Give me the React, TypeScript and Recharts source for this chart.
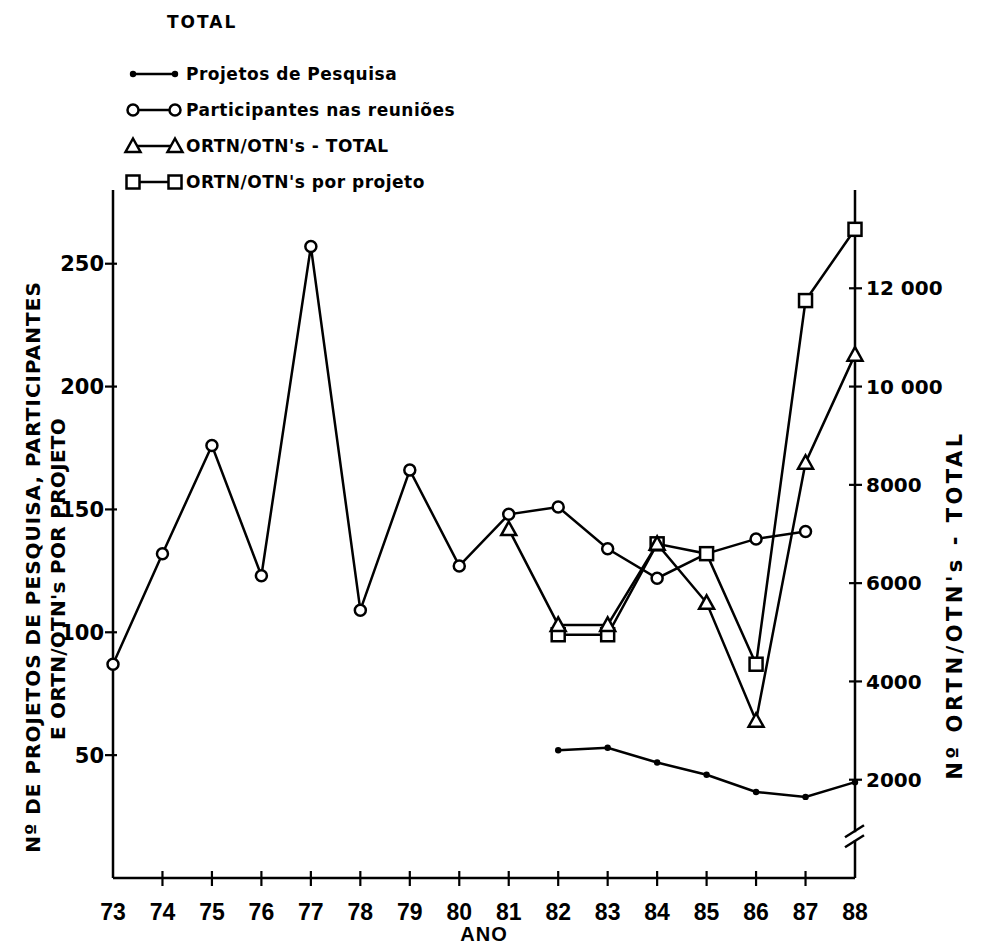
import React from "react";
import { LineChart, Line, XAxis, YAxis, Legend, ReferenceDot } from "recharts";

document.body.style.margin = "0";

// valores (anos 1973-1988)
const years = [73, 74, 75, 76, 77, 78, 79, 80, 81, 82, 83, 84, 85, 86, 87, 88];
const projetosPesquisa = [null, null, null, null, null, null, null, null, null, 52, 53, 47, 42, 35, 33, 39];
const participantesReunioes = [87, 132, 176, 123, 257, 109, 166, 127, 148, 151, 134, 122, 132, 138, 141, null];
const ortnTotal = [null, null, null, null, null, null, null, null, 7100, 5150, 5150, 6800, 5600, 3200, 8450, 10650];
const ortnPorProjeto = [null, null, null, null, null, null, null, null, null, 99, 99, 136, 132, 87, 235, 264];

const leftTicks = [50, 100, 150, 200, 250];
const rightTicks = [2000, 4000, 6000, 8000, 10000, 12000];
const rightTickLabels = ["2000", "4000", "6000", "8000", "10 000", "12 000"];

const legendItems = [
  { label: "Projetos de Pesquisa", marker: "dot" },
  { label: "Participantes nas reuniões", marker: "circle" },
  { label: "ORTN/OTN's - TOTAL", marker: "triangle" },
  { label: "ORTN/OTN's por projeto", marker: "square" },
];

const data = years.map((ano, i) => ({
  ano,
  projetos: projetosPesquisa[i],
  participantes: participantesReunioes[i],
  total: ortnTotal[i],
  porProjeto: ortnPorProjeto[i],
}));

const INK = "#000";
const FONT = "'DejaVu Sans', sans-serif";
const XFONT = "'Liberation Sans', Arial, sans-serif";

function Marker({ kind, cx, cy }: { kind: string; cx: number; cy: number }) {
  if (kind === "dot") return <circle cx={cx} cy={cy} r={3.2} fill={INK} />;
  if (kind === "circle")
    return <circle cx={cx} cy={cy} r={5.5} fill="#fff" stroke={INK} strokeWidth={2.5} />;
  if (kind === "triangle")
    return (
      <polygon
        points={`${cx},${cy - 7.5} ${cx + 7.5},${cy + 6} ${cx - 7.5},${cy + 6}`}
        fill="#fff"
        stroke={INK}
        strokeWidth={2.5}
      />
    );
  return <rect x={cx - 6.5} y={cy - 6.5} width={13} height={13} fill="#fff" stroke={INK} strokeWidth={2.5} />;
}

const dotOf = (kind: string) => (props: any) => {
  const { cx, cy, index } = props;
  if (cx == null || cy == null) return <g key={`e-${index}`} />;
  return (
    <g key={`d-${kind}-${index}`}>
      <Marker kind={kind} cx={cx} cy={cy} />
    </g>
  );
};

const XTick = (props: any) => {
  const { x, y, payload, index } = props;
  const edge = index === 0 || index === years.length - 1;
  return (
    <g>
      {!edge && <line x1={x} x2={x} y1={y - 7} y2={y + 8} stroke={INK} strokeWidth={2.2} />}
      <text x={x} y={y + 34} dy="0.36em" textAnchor="middle" fontFamily={XFONT} fontWeight="bold" fontSize={23} fill={INK}>
        {payload.value}
      </text>
    </g>
  );
};

const LeftTick = (props: any) => {
  const { x, y, payload } = props;
  return (
    <g>
      <line x1={x - 8} x2={x + 4} y1={y} y2={y} stroke={INK} strokeWidth={2.2} />
      <text x={x - 9} y={y} dy="0.36em" textAnchor="end" fontFamily={FONT} fontWeight="bold" fontSize={21} fill={INK}>
        {payload.value}
      </text>
    </g>
  );
};

const RightTick = (props: any) => {
  const { x, y, payload } = props;
  const i = rightTicks.indexOf(payload.value);
  return (
    <g>
      <line x1={x - 6} x2={x + 7} y1={y} y2={y} stroke={INK} strokeWidth={2.2} />
      <text x={x + 11} y={y} dy="0.36em" textAnchor="start" fontFamily={FONT} fontWeight="bold" fontSize={20} fill={INK}>
        {i >= 0 ? rightTickLabels[i] : payload.value}
      </text>
    </g>
  );
};

const LeftLabel = (props: any) => {
  const { x, y, height } = props.viewBox;
  const c1x = x + 33;
  const c1y = y + height / 2 + 33;
  const c2x = x + 58;
  const c2y = y + height / 2 + 45;
  return (
    <g fontFamily={FONT} fontWeight="bold" fontSize={20} fill={INK}>
      <text x={c1x} y={c1y} textAnchor="middle" dominantBaseline="central" letterSpacing={1} transform={`rotate(-90, ${c1x}, ${c1y})`}>
        Nº DE PROJETOS DE PESQUISA, PARTICIPANTES
      </text>
      <text x={c2x} y={c2y} textAnchor="middle" dominantBaseline="central" letterSpacing={0.3} transform={`rotate(-90, ${c2x}, ${c2y})`}>
        E ORTN/OTN's POR PROJETO
      </text>
    </g>
  );
};

const RightLabel = (props: any) => {
  const { x, y, height } = props.viewBox;
  const cx = x + 100;
  const cy = y + height / 2 + 71;
  return (
    <text
      x={cx}
      y={cy}
      textAnchor="middle"
      dominantBaseline="central"
      transform={`rotate(-90, ${cx}, ${cy})`}
      fontFamily={FONT}
      fontWeight="bold"
      fontSize={21}
      letterSpacing={3.5}
      fill={INK}
    >
      Nº ORTN/OTN's - TOTAL
    </text>
  );
};

const XLabel = (props: any) => {
  const { x, y, width } = props.viewBox;
  return (
    <text x={x + width / 2} y={y + 56} dy="0.36em" textAnchor="middle" fontFamily={XFONT} fontWeight="bold" fontSize={20} letterSpacing={1} fill={INK}>
      ANO
    </text>
  );
};

const BreakMark = (props: any) => {
  const { cx, cy } = props;
  if (cx == null || cy == null) return <g />;
  return (
    <g>
      <rect x={cx - 3} y={cy - 4} width={6} height={8} fill="#fff" />
      <line x1={cx - 10} y1={cy + 1} x2={cx + 9} y2={cy - 11} stroke={INK} strokeWidth={2.5} />
      <line x1={cx - 10} y1={cy + 11} x2={cx + 9} y2={cy - 1} stroke={INK} strokeWidth={2.5} />
    </g>
  );
};

const LegendBox = () => (
  <svg width={420} height={190} style={{ overflow: "visible" }}>
    <text x={47} y={-33} dy="0.36em" fontFamily={FONT} fontWeight="bold" fontSize={17} letterSpacing={2} fill={INK}>
      TOTAL
    </text>
    {legendItems.map((item, i) => {
      const y = 19 + i * 36;
      return (
        <g key={item.label}>
          <line x1={13} x2={55} y1={y} y2={y} stroke={INK} strokeWidth={2.5} />
          <Marker kind={item.marker} cx={13} cy={y} />
          <Marker kind={item.marker} cx={55} cy={y} />
          <text x={66} y={y} dy="0.36em" fontFamily={FONT} fontWeight="bold" fontSize={17} letterSpacing={0.5} fill={INK}>
            {item.label}
          </text>
        </g>
      );
    })}
  </svg>
);

export default function App() {
  return (
    <div style={{ background: "#fff", width: 986, height: 949 }}>
      <LineChart width={986} height={949} data={data} margin={{ top: 190, right: 0, bottom: 0, left: 0 }}>
        <XAxis
          dataKey="ano"
          type="number"
          domain={[73, 88]}
          ticks={years}
          interval={0}
          height={71}
          axisLine={{ stroke: INK, strokeWidth: 2.5 }}
          tickLine={false}
          tickSize={0}
          tickMargin={0}
          tick={<XTick />}
          label={{ content: <XLabel /> }}
        />
        <YAxis
          yAxisId="left"
          orientation="left"
          domain={[0, 280]}
          ticks={leftTicks}
          width={113}
          axisLine={{ stroke: INK, strokeWidth: 2.5 }}
          tickLine={false}
          tickSize={0}
          tickMargin={0}
          tick={<LeftTick />}
          label={{ content: <LeftLabel /> }}
        />
        <YAxis
          yAxisId="right"
          orientation="right"
          domain={[0, 14000]}
          ticks={rightTicks}
          width={131}
          axisLine={{ stroke: INK, strokeWidth: 2.5 }}
          tickLine={false}
          tickSize={0}
          tickMargin={0}
          tick={<RightTick />}
          label={{ content: <RightLabel /> }}
        />
        <Legend
          layout="vertical"
          align="center"
          verticalAlign="middle"
          content={<LegendBox />}
          wrapperStyle={{ position: "absolute", top: 55, left: 120, width: 420, height: 190 }}
        />
        <Line yAxisId="left" dataKey="projetos" stroke={INK} strokeWidth={2.5} dot={dotOf("dot")} activeDot={false} isAnimationActive={false} />
        <Line yAxisId="left" dataKey="participantes" stroke={INK} strokeWidth={2.5} dot={dotOf("circle")} activeDot={false} isAnimationActive={false} />
        <Line yAxisId="left" dataKey="porProjeto" stroke={INK} strokeWidth={2.5} dot={dotOf("square")} activeDot={false} isAnimationActive={false} />
        <Line yAxisId="right" dataKey="total" stroke={INK} strokeWidth={2.5} dot={dotOf("triangle")} activeDot={false} isAnimationActive={false} />
        <ReferenceDot yAxisId="right" x={88} y={850} shape={<BreakMark />} ifOverflow="visible" />
      </LineChart>
    </div>
  );
}
